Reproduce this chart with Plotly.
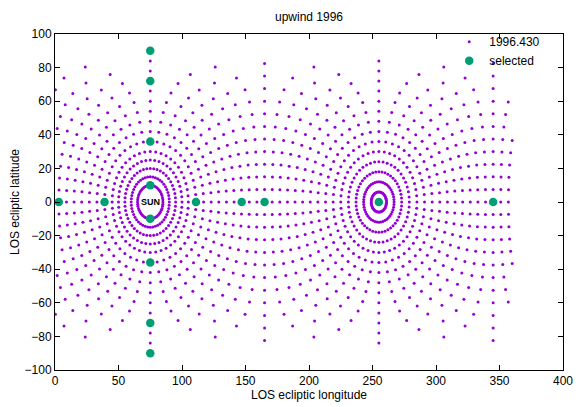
import numpy as np
import plotly.graph_objects as go

# Sun direction in ecliptic coordinates (deg)
sun_lon = 75.0
sun_lat = 0.0

# LOS grid: elongation from the Sun and position angle (deg)
elongations = [10, 15, 20, 25, 30, 36, 42, 48, 54, 60, 66, 72, 78, 84, 90,
               96, 102, 108, 114, 120, 126, 132, 138, 144, 150, 156, 162,
               168, 174]
position_angles = [0, 7.5, 15, 22.5, 30, 37.5, 45, 52.5, 60, 67.5, 75, 82.5,
                   90, 97.5, 105, 112.5, 120, 127.5, 135, 142.5, 150, 157.5,
                   165, 172.5, 180, 187.5, 195, 202.5, 210, 217.5, 225, 232.5,
                   240, 247.5, 255, 262.5, 270, 277.5, 285, 292.5, 300, 307.5,
                   315, 322.5, 330, 337.5, 345, 352.5]

# selected lines of sight
sel_lon = [75, 75, 75, 75, 75, 75, 75, 75, 3, 39, 111, 147, 165, 255, 345]
sel_lat = [90, 72, 36, 10, -10, -36, -72, -90, 0, 0, 0, 0, 0, 0, 0]


def los_to_ecliptic(eps, pa, lon0, lat0):
    """Convert elongation / position angle around (lon0, lat0) to ecliptic lon/lat."""
    e, p, b0 = np.radians(eps), np.radians(pa), np.radians(lat0)
    sin_lat = np.round(np.sin(b0) * np.cos(e) + np.cos(b0) * np.sin(e) * np.cos(p), 12)
    lat = np.degrees(np.arcsin(np.clip(sin_lat, -1, 1)))
    y = np.round(np.sin(p) * np.sin(e) * np.cos(b0), 12)
    x = np.round(np.cos(e) - np.sin(b0) * sin_lat, 12)
    lon = (lon0 + np.degrees(np.arctan2(y, x))) % 360
    return lon, lat


ee, pp = np.meshgrid(elongations, position_angles)
los_lon, los_lat = los_to_ecliptic(ee.ravel(), pp.ravel(), sun_lon, sun_lat)

font = dict(family='Liberation Sans, Arial, sans-serif', size=12, color='black')

fig = go.Figure()
fig.add_trace(go.Scatter(
    x=los_lon, y=los_lat, mode='markers', name='1996.430',
    marker=dict(size=3, color='#9400d3', line=dict(width=0)),
))
fig.add_trace(go.Scatter(
    x=sel_lon, y=sel_lat, mode='markers', name='selected',
    marker=dict(size=8.5, color='#009e73', line=dict(width=0)),
))
fig.add_annotation(x=sun_lon, y=sun_lat, text='<b>SUN</b>', showarrow=False,
                   font=dict(family=font['family'], size=9, color='black'))

axis_style = dict(showgrid=False, zeroline=False, showline=True, linecolor='black',
                  linewidth=1, mirror='allticks', ticks='inside', ticklen=5,
                  tickcolor='black', tickfont=font, automargin=False)

# the page body adds an 8px offset, so the figure is 8px smaller than the window
fig.update_layout(
    width=573, height=399,
    margin=dict(l=47, r=18, t=26, b=37),
    paper_bgcolor='white', plot_bgcolor='white',
    font=font,
    title=dict(text='upwind 1996', x=0.5, xref='paper', xanchor='center',
               y=1 - 9 / 399, yref='container', yanchor='middle', font=font,
               automargin=False),
    xaxis=dict(range=[0, 400], dtick=50, tick0=0,
               title=dict(text='LOS ecliptic longitude', font=font, standoff=0),
               **axis_style),
    yaxis=dict(range=[-100, 100], dtick=20, tick0=0,
               title=dict(text='LOS ecliptic latitude', font=font, standoff=6),
               **axis_style),
    legend=dict(x=0.965, y=1.02, xanchor='right', yanchor='top',
                bgcolor='rgba(0,0,0,0)', font=font, itemwidth=30,
                tracegroupgap=0),
    showlegend=True,
)

fig.write_html('out.html')
